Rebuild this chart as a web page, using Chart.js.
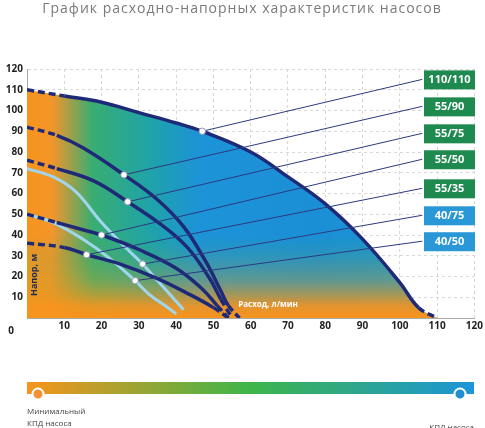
<!DOCTYPE html>
<html><head><meta charset="utf-8">
<script src="https://cdn.jsdelivr.net/npm/chart.js@4/dist/chart.umd.min.js"></script>
<style>html,body{margin:0;padding:0;background:#fff}#c{display:block}</style>
</head><body>
<div style="width:485px;height:428px"><canvas id="c"></canvas></div>
<script>
// Pump curves: flow (l/min) vs head (m)
const names = ['110/110', '55/90', '55/75', '55/50', '55/35', '40/75', '40/50'];
const boxColors = ['#1f8a4f', '#1f8a4f', '#1f8a4f', '#1f8a4f', '#1f8a4f', '#2a97d6', '#2a97d6'];
const curveX = [
    [0, 10, 20, 30, 40, 47, 60, 70, 80, 90, 100, 105, 110],
    [0, 8, 15, 26, 35, 42, 48, 52, 54, 57],
    [0, 8, 18, 27, 36, 43, 49, 52, 55],
    [0, 8, 14, 20, 30, 40, 47, 51, 54],
    [0, 10, 16, 25, 35, 44, 50, 54],
    [0, 7, 13, 20, 27, 31, 36, 40, 42],
    [0, 7, 15, 22, 29, 33, 37, 40],
];
const curveY = [
    [110, 107, 104, 99, 94, 90, 80, 68, 55, 38, 17, 5, 0],
    [92, 88, 82, 69, 57, 44, 27, 13, 6, 0],
    [76, 72, 66, 56, 45, 34, 19, 9, 0],
    [50, 46, 43, 40, 33, 24, 14, 6, 0],
    [36, 34, 30.5, 26, 19, 11, 5, 0],
    [72, 68, 61, 46, 33, 26, 16, 8, 4],
    [50, 46, 38, 29, 18, 11, 6, 2],
];
const markX = [47, 26, 27, 20, 16, 31, 29];
const markY = [90, 69, 56, 40, 30.5, 26, 18];
const leaderEndX = 106;
const leaderEndY = [115, 102, 89, 76.5, 62.5, 49.5, 37];
const ticks = [0, 10, 20, 30, 40, 50, 60, 70, 80, 90, 100, 110, 120];

const pts = (xs, ys) => xs.map((x, i) => ({ x, y: ys[i] }));
const envelope = pts(curveX[0], curveY[0]);

const datasets = [];
// leader lines
names.forEach((n, i) => datasets.push({
    data: [{ x: markX[i], y: markY[i] }, { x: leaderEndX, y: leaderEndY[i] }],
    borderColor: '#2b3a80', borderWidth: 1, pointRadius: 0, order: 1,
}));
// curves
names.forEach((n, i) => {
    const last = curveX[i].length - 1;
    const light = i >= 5;
    datasets.push({
        data: pts(curveX[i], curveY[i]),
        borderColor: light ? '#9fd6ee' : '#1e2a78',
        borderWidth: light ? 3 : 3.5,
        tension: 0.4, pointRadius: 0, order: 2,
        segment: { borderDash: c => (!light && (c.p0DataIndex === 0 || c.p1DataIndex === last)) ? [7, 4] : undefined },
    });
});
// markers
datasets.push({
    type: 'scatter', data: pts(markX, markY), pointRadius: 3.2,
    pointBackgroundColor: '#fff', pointBorderColor: '#8a9ab0', pointBorderWidth: 1, order: 0,
});
// area fills (horizontal, then bottom orange)
datasets.push({
    data: envelope, tension: 0.4, pointRadius: 0, borderWidth: 0, fill: 'origin', order: 5,
    backgroundColor: c => {
        const a = c.chart.chartArea; if (!a) return 'transparent';
        const xs = c.chart.scales.x;
        const g = c.chart.ctx.createLinearGradient(xs.getPixelForValue(0), 0, xs.getPixelForValue(110), 0);
        g.addColorStop(0, '#f7941d'); g.addColorStop(0.06, '#f4952a');
        g.addColorStop(0.16, '#39ad72'); g.addColorStop(0.3, '#1fa3a8');
        g.addColorStop(0.42, '#1d93d8'); g.addColorStop(0.7, '#1b8fd6'); g.addColorStop(1, '#1d96cf');
        return g;
    },
});
datasets.push({
    data: envelope, tension: 0.4, pointRadius: 0, borderWidth: 0, fill: 'origin', order: 4,
    backgroundColor: c => {
        const a = c.chart.chartArea; if (!a) return 'transparent';
        const ys = c.chart.scales.y;
        const g = c.chart.ctx.createLinearGradient(0, ys.getPixelForValue(0), 0, ys.getPixelForValue(40));
        g.addColorStop(0, 'rgba(247,148,29,1)'); g.addColorStop(0.15, 'rgba(247,148,29,0.9)');
        g.addColorStop(0.45, 'rgba(200,160,40,0.4)'); g.addColorStop(1, 'rgba(60,170,90,0)');
        return g;
    },
});

const deco = {
    id: 'deco',
    afterDraw(chart) {
        const { ctx, chartArea: a, scales } = chart;
        ctx.save();
        ctx.fillStyle = '#7a7a7a'; ctx.font = '14px "Open Sans"'; ctx.textAlign = 'center';
        ctx.textBaseline = 'middle';
        if (ctx.letterSpacing !== undefined) ctx.letterSpacing = '1px';
        ctx.fillText('График расходно-напорных характеристик насосов', 242, 9);
        if (ctx.letterSpacing !== undefined) ctx.letterSpacing = '0px';
        // label boxes
        names.forEach((n, i) => {
            const y = scales.y.getPixelForValue(leaderEndY[i]);
            ctx.fillStyle = boxColors[i];
            ctx.fillRect(424, y - 9, 51, 19);
            ctx.fillStyle = '#fff'; ctx.font = 'bold 11px "Open Sans"';
            ctx.fillText(n, 449.5, y + 0.5);
        });
        ctx.fillStyle = '#222'; ctx.font = 'bold 10px "Open Sans"';
        ctx.fillText('0', 11, 331);
        ctx.fillStyle = '#1e2a5a'; ctx.font = 'bold 9px "Open Sans"';
        ctx.save(); ctx.translate(34, 275); ctx.rotate(-Math.PI / 2); ctx.fillText('Напор, м', 0, 0); ctx.restore();
        ctx.fillStyle = '#fff'; ctx.font = 'bold 8px "Open Sans"';
        ctx.fillText('Расход, л/мин', 268, 305);
        // efficiency bar
        const g = ctx.createLinearGradient(27, 0, 474, 0);
        g.addColorStop(0, '#f7941d'); g.addColorStop(0.5, '#3db54a'); g.addColorStop(1, '#1c95d9');
        ctx.fillStyle = g; ctx.fillRect(27, 382, 447, 12);
        [[38, '#f39233'], [460, '#1f8fd1']].forEach(([x, col]) => {
            ctx.beginPath(); ctx.arc(x, 394, 5.5, 0, Math.PI * 2);
            ctx.fillStyle = col; ctx.fill(); ctx.lineWidth = 2; ctx.strokeStyle = '#fff'; ctx.stroke();
        });
        ctx.fillStyle = '#444'; ctx.font = '8px "Open Sans"'; ctx.textAlign = 'left';
        ctx.fillText('Минимальный', 27, 412); ctx.fillText('КПД насоса', 27, 424);
        ctx.textAlign = 'right'; ctx.fillText('КПД насоса', 474, 428);
        ctx.restore();
    },
};

new Chart(document.getElementById('c'), {
    type: 'line',
    data: { datasets },
    plugins: [deco],
    options: {
        responsive: true, maintainAspectRatio: false, animation: false,
        layout: { padding: { top: 69, right: 8, bottom: 90, left: 0 } },
        plugins: { legend: { display: false }, tooltip: { enabled: false } },
        scales: {
            x: {
                type: 'linear', min: 0, max: 120,
                afterFit: s => { s.height = 20; },
                afterBuildTicks: s => { s.ticks = ticks.map(v => ({ value: v })); },
                ticks: { color: '#222', font: { size: 10, weight: 'bold', family: 'Open Sans' }, padding: 2,
                    callback: v => v === 0 ? '' : v },
                grid: { color: '#d8d8d8', tickLength: 0 },
                border: { color: '#aaa', dash: [3, 3] },
            },
            y: {
                min: 0, max: 120,
                afterFit: s => { s.width = 27; },
                afterBuildTicks: s => { s.ticks = ticks.map(v => ({ value: v })); },
                ticks: { color: '#222', font: { size: 10, weight: 'bold', family: 'Open Sans' }, padding: 4,
                    callback: v => v === 0 ? '' : v },
                grid: { color: '#d8d8d8', tickLength: 0 },
                border: { color: '#aaa', dash: [3, 3] },
            },
        },
    },
});
</script>
</body></html>
